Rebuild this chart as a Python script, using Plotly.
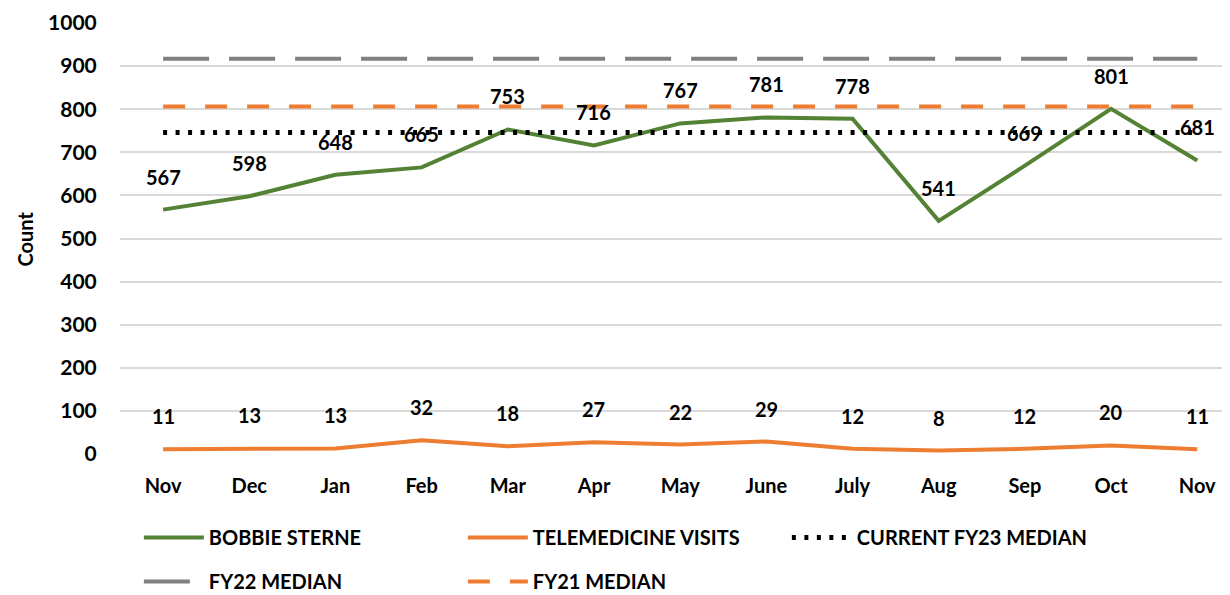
import plotly.graph_objects as go

months = ["Nov", "Dec", "Jan", "Feb", "Mar", "Apr", "May", "June", "July", "Aug", "Sep", "Oct", "Nov"]
bobbie_sterne = [567, 598, 648, 665, 753, 716, 767, 781, 778, 541, 669, 801, 681]
telemedicine = [11, 13, 13, 32, 18, 27, 22, 29, 12, 8, 12, 20, 11]
fy23_median = 746
fy22_median = 917
fy21_median = 806
y_ticks = list(range(0, 1001, 100))

FONT = "Lato"
x_idx = list(range(len(months)))

fig = go.Figure()
fig.add_trace(go.Scatter(x=x_idx, y=bobbie_sterne, mode="lines", name="BOBBIE STERNE",
                         line=dict(color="#548235", width=4), legend="legend"))
fig.add_trace(go.Scatter(x=x_idx, y=telemedicine, mode="lines", name="TELEMEDICINE VISITS",
                         line=dict(color="#ED7D31", width=4), legend="legend"))
fig.add_trace(go.Scatter(x=x_idx, y=[fy23_median] * len(months), mode="lines", name="CURRENT FY23 MEDIAN",
                         line=dict(color="#000000", width=5, dash="4px,8.5px"), legend="legend"))
fig.add_trace(go.Scatter(x=x_idx, y=[fy22_median] * len(months), mode="lines", name="FY22 MEDIAN",
                         line=dict(color="#808080", width=4, dash="46px,20px"), legend="legend2"))
fig.add_trace(go.Scatter(x=x_idx, y=[fy21_median] * len(months), mode="lines", name="FY21 MEDIAN",
                         line=dict(color="#ED7D31", width=4, dash="22px,20px"), legend="legend2"))

annotations = []
for series in (bobbie_sterne, telemedicine):
    for xi, v in zip(x_idx, series):
        annotations.append(dict(x=xi, y=v, text=str(v), showarrow=False, xref="x", yref="y",
                                yshift=33, font=dict(family=FONT, size=20, color="#000000", weight="bold")))
annotations.append(dict(x=-0.0856, y=0.5, xref="paper", yref="paper", text="Count", textangle=-90,
                        xanchor="center", yanchor="middle",
                        showarrow=False, font=dict(family=FONT, size=20, color="#000000", weight="bold")))

legend_common = dict(orientation="h", xanchor="left", yanchor="middle",
                     entrywidth=249, entrywidthmode="pixels", itemwidth=60,
                     font=dict(family=FONT, size=20, color="#000000", weight="bold"),
                     bgcolor="rgba(0,0,0,0)")

fig.update_layout(
    width=1222, height=587,
    margin=dict(l=112, r=0, t=15, b=141, autoexpand=False),
    paper_bgcolor="white", plot_bgcolor="white",
    font=dict(family=FONT, size=20, color="#000000", weight="bold"),
    showlegend=True,
    legend=dict(x=0.017, y=-0.194, **legend_common),
    legend2=dict(x=0.017, y=-0.296, **legend_common),
    annotations=annotations,
)
fig.update_xaxes(range=[-0.5, 12.38], tickmode="array", tickvals=x_idx, ticktext=months,
                 showgrid=False, zeroline=False, showline=False, automargin=False,
                 ticks="outside", ticklen=14, tickcolor="rgba(0,0,0,0)",
                 tickfont=dict(family=FONT, size=20, color="#000000", weight="bold"))
fig.update_yaxes(range=[0, 1000], tickmode="array", tickvals=y_ticks,
                 showgrid=True, gridcolor="#D9D9D9", gridwidth=2, zeroline=False, showline=False,
                 automargin=False, ticklabeloverflow="allow",
                 ticks="outside", ticklen=18, tickcolor="rgba(0,0,0,0)",
                 tickfont=dict(family=FONT, size=21, color="#000000", weight="bold"))

fig.write_html("out.html")
